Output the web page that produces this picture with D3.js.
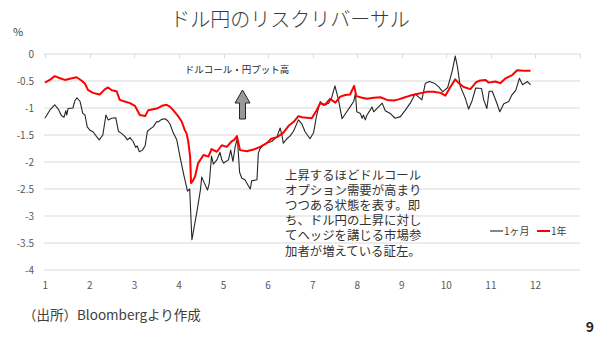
<!DOCTYPE html>
<html><head><meta charset="utf-8">
<script src="https://cdn.jsdelivr.net/npm/d3@7"></script>
<style>
html,body{margin:0;padding:0;background:#fff;}
svg text{font-family:"Noto Sans CJK JP","Noto Sans",sans-serif;}
svg text.note{font-family:"Liberation Sans","Noto Sans CJK JP",sans-serif;}
</style></head>
<body><svg id="c" width="605" height="342"></svg>
<script>
const title = "ドル円のリスクリバーサル";
const yTicks = [0,-0.5,-1,-1.5,-2,-2.5,-3,-3.5,-4];
const yTickLabels = ["0","-0.5","-1","-1.5","-2","-2.5","-3","-3.5","-4"];
const xTicks = [1,2,3,4,5,6,7,8,9,10,11,12];
const xTickLabels = ["1","2","3","4","5","6","7","8","9","10","11","12"];
const seriesNames = ["1ヶ月","1年"];
// month (fractional), value (%)
const month1Y = [0.99,1.10,1.21,1.33,1.44,1.55,1.70,1.81,1.89,1.96,2.07,2.22,2.34,2.41,2.49,2.60,2.67,2.78,2.90,3.01,3.12,3.24,3.31,3.50,3.62,3.72,3.80,3.87,3.98,4.06,4.13,4.17,4.21,4.25,4.27,4.31,4.36,4.43,4.55,4.66,4.73,4.85,4.96,5.07,5.18,5.24,5.30,5.37,5.52,5.67,5.82,5.97,6.07,6.20,6.34,6.46,6.57,6.68,6.76,6.87,6.98,7.09,7.17,7.28,7.39,7.51,7.62,7.73,7.84,7.93,7.98,8.11,8.22,8.37,8.52,8.67,8.82,8.93,9.04,9.19,9.34,9.45,9.57,9.71,9.87,9.98,10.09,10.20,10.28,10.39,10.54,10.67,10.76,10.88,10.95,11.10,11.21,11.33,11.48,11.59,11.74,11.89];
const rr1Y = [-0.53,-0.48,-0.41,-0.45,-0.48,-0.46,-0.43,-0.49,-0.55,-0.67,-0.72,-0.75,-0.65,-0.62,-0.67,-0.69,-0.85,-0.88,-0.91,-0.96,-1.13,-1.15,-1.04,-1.01,-0.96,-0.94,-0.98,-1.04,-1.15,-1.25,-1.41,-1.47,-1.63,-1.91,-2.39,-2.35,-2.27,-2.02,-1.87,-1.90,-1.76,-1.81,-1.69,-1.72,-1.62,-1.59,-1.52,-1.78,-1.80,-1.77,-1.72,-1.65,-1.57,-1.54,-1.46,-1.33,-1.26,-1.15,-1.17,-1.18,-1.19,-1.04,-0.91,-0.94,-0.83,-0.90,-0.79,-0.76,-0.75,-0.59,-0.78,-0.81,-0.83,-0.81,-0.80,-0.85,-0.86,-0.84,-0.81,-0.77,-0.74,-0.72,-0.70,-0.70,-0.72,-0.77,-0.61,-0.47,-0.54,-0.61,-0.65,-0.52,-0.49,-0.48,-0.53,-0.51,-0.54,-0.45,-0.39,-0.30,-0.31,-0.31];
const month1M = [0.99,1.10,1.21,1.29,1.36,1.42,1.46,1.48,1.51,1.62,1.66,1.71,1.78,1.84,1.89,1.94,2.00,2.07,2.15,2.21,2.29,2.36,2.41,2.49,2.58,2.64,2.71,2.79,2.84,2.90,2.97,3.03,3.06,3.11,3.18,3.24,3.29,3.35,3.42,3.50,3.53,3.61,3.69,3.75,3.80,3.87,3.95,4.02,4.10,4.16,4.19,4.24,4.29,4.40,4.48,4.51,4.58,4.64,4.68,4.73,4.77,4.85,4.92,4.96,5.00,5.11,5.16,5.21,5.26,5.31,5.36,5.41,5.48,5.55,5.60,5.63,5.75,5.78,5.82,5.89,5.97,6.08,6.20,6.27,6.31,6.34,6.42,6.49,6.57,6.68,6.76,6.83,6.94,7.02,7.09,7.17,7.24,7.36,7.43,7.50,7.58,7.66,7.73,7.84,7.92,7.96,7.99,8.07,8.11,8.14,8.18,8.22,8.29,8.33,8.37,8.44,8.56,8.63,8.74,8.85,8.97,9.08,9.19,9.30,9.45,9.53,9.62,9.73,9.83,9.92,10.03,10.13,10.20,10.25,10.31,10.43,10.50,10.58,10.66,10.79,10.84,10.91,10.96,11.03,11.12,11.20,11.29,11.40,11.47,11.56,11.64,11.71,11.82,11.89];
const rr1M = [-1.19,-1.04,-0.94,-1.02,-1.14,-1.17,-1.05,-1.13,-1.01,-1.00,-0.87,-0.81,-0.88,-1.10,-1.13,-1.35,-1.41,-1.44,-1.53,-1.59,-1.50,-1.13,-1.22,-1.19,-1.18,-1.43,-1.47,-1.53,-1.59,-1.55,-1.62,-1.73,-1.70,-1.81,-1.78,-1.70,-1.43,-1.39,-1.35,-1.25,-1.26,-1.21,-1.20,-1.24,-1.30,-1.46,-1.59,-1.89,-2.21,-2.43,-2.54,-2.50,-3.44,-2.93,-2.52,-2.28,-2.41,-2.52,-2.39,-1.89,-2.04,-1.96,-1.82,-1.96,-2.02,-1.96,-1.78,-1.99,-1.72,-1.56,-2.19,-2.30,-2.33,-2.43,-2.50,-2.35,-2.33,-1.84,-1.75,-1.69,-1.65,-1.62,-1.53,-1.37,-1.50,-1.65,-1.57,-1.52,-1.43,-1.22,-1.30,-1.44,-1.57,-1.46,-1.13,-0.88,-0.95,-0.91,-0.80,-0.59,-0.85,-1.20,-1.11,-0.98,-0.88,-0.73,-1.07,-1.10,-1.19,-1.13,-1.22,-1.13,-1.04,-0.98,-1.07,-1.01,-0.91,-1.05,-1.10,-1.19,-1.16,-1.04,-0.91,-0.74,-0.85,-0.54,-0.51,-0.54,-0.61,-0.70,-0.62,-0.32,-0.04,-0.24,-0.59,-0.83,-1.02,-0.86,-0.63,-0.64,-0.85,-1.01,-0.69,-0.69,-0.88,-1.07,-0.92,-0.88,-0.76,-0.67,-0.45,-0.57,-0.51,-0.57];
const annotTop = "ドルコール・円プット高";
const note = ["上昇するほどドルコール","オプション需要が高まり","つつある状態を表す。即","ち、ドル円の上昇に対し","てヘッジを講じる市場参","加者が増えている証左。"];
const source = "（出所）Bloombergより作成";
const pageNo = "9";

const svg = d3.select("#c");
const x = d3.scaleLinear().domain([0.97, 13]).range([44, 580]);
const y = d3.scaleLinear().domain([-4, 0]).range([270, 54]);

svg.append("text").attr("x", 290).attr("y", 27).attr("text-anchor","middle")
  .attr("font-size", 20).attr("fill", "#3a3a3a").attr("font-weight", 300).text(title);
svg.append("text").attr("x", 18).attr("y", 36).attr("text-anchor","middle")
  .attr("font-size", 11).attr("fill", "#404040").text("%");

// gridlines
svg.append("g").selectAll("line").data(yTicks).join("line")
  .attr("x1", 44).attr("x2", 580).attr("y1", d => y(d)).attr("y2", d => y(d))
  .attr("stroke", "#d9d9d9").attr("stroke-width", 1);
// tick marks on the zero line
svg.append("g").selectAll("line").data(xTicks.concat([13])).join("line")
  .attr("x1", d => Math.round(x(d))+0.5).attr("x2", d => Math.round(x(d))+0.5)
  .attr("y1", y(0)).attr("y2", y(0)+4).attr("stroke", "#d9d9d9");

// y labels
svg.append("g").selectAll("text").data(yTicks).join("text")
  .attr("x", 34).attr("y", d => y(d) + 3.5).attr("text-anchor","end")
  .attr("font-size", 10).attr("fill", "#595959").text((d,i) => yTickLabels[i]);
// x labels
svg.append("g").selectAll("text").data(xTicks).join("text")
  .attr("x", d => x(d)).attr("y", 289).attr("text-anchor","middle")
  .attr("font-size", 10).attr("fill", "#595959").text((d,i) => xTickLabels[i]);

const line = d3.line().x(d => x(d[0])).y(d => y(d[1]));
const d1M = month1M.map((m,i) => [m, rr1M[i]]);
const d1Y = month1Y.map((m,i) => [m, rr1Y[i]]);
svg.append("path").datum(d1M).attr("d", line).attr("fill","none")
  .attr("stroke", "#262626").attr("stroke-width", 1.1).attr("stroke-linejoin","round");
svg.append("path").datum(d1Y).attr("d", line).attr("fill","none")
  .attr("stroke", "#ff0000").attr("stroke-width", 2).attr("stroke-linejoin","round");

// annotation
svg.append("text").attr("x", 237).attr("y", 73).attr("text-anchor","middle")
  .attr("font-size", 9.5).attr("fill", "#262626").text(annotTop);
svg.append("path")
  .attr("d", "M242.5,90 L250,103 L245.5,103 L245.5,119 L239.5,119 L239.5,103 L235,103 Z")
  .attr("fill", "#999999").attr("stroke", "#262626").attr("stroke-width", 1);

svg.append("g").selectAll("text").data(note).join("text").attr("class", "note")
  .attr("x", 285).attr("y", (d,i) => 179.5 + i*15.2)
  .attr("font-size", 12.4).attr("fill", "#333").text(d => d);

// legend
const leg = svg.append("g");
const legItems = [{c:"#262626", w:1.1, x:490}, {c:"#ff0000", w:2, x:537}];
legItems.forEach((it,i) => {
  leg.append("line").attr("x1", it.x).attr("x2", it.x+13).attr("y1", 231).attr("y2", 231)
    .attr("stroke", it.c).attr("stroke-width", it.w);
  leg.append("text").attr("x", it.x+14).attr("y", 234.5).attr("font-size", 10)
    .attr("fill", "#404040").text(seriesNames[i]);
});

svg.append("text").attr("x", 23).attr("y", 320).attr("font-size", 13.5)
  .attr("fill", "#404040").text(source);
svg.append("text").attr("x", 590).attr("y", 332).attr("text-anchor","middle")
  .attr("font-size", 14).attr("font-weight", "bold").attr("fill", "#262626").text(pageNo);
</script></body></html>
